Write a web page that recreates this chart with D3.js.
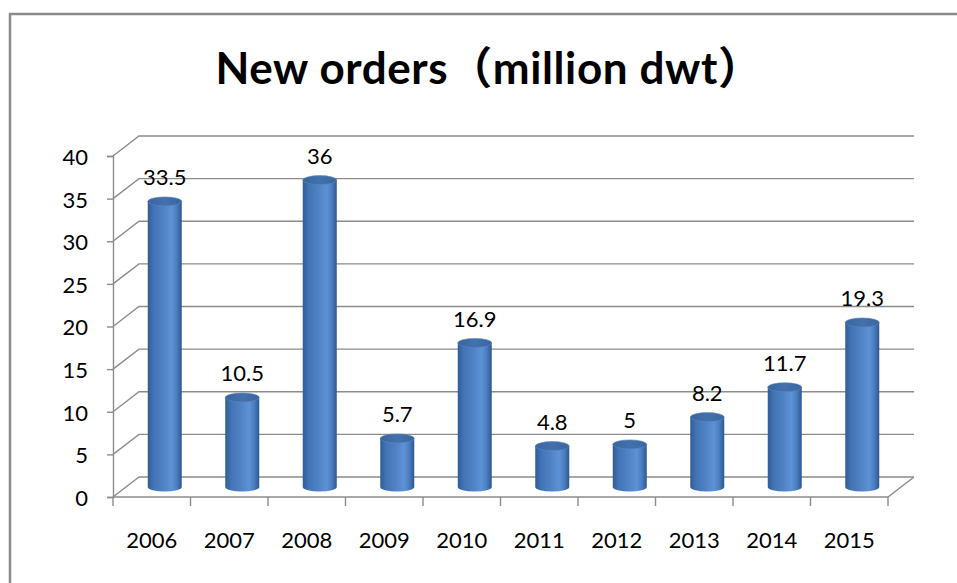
<!DOCTYPE html>
<html>
<head>
<meta charset="utf-8">
<script src="https://cdn.jsdelivr.net/npm/d3@7"></script>
<style>
  html, body { margin: 0; padding: 0; background: #fff; }
  svg { display: block; }
  text { font-family: Lato, "Noto Sans", "Noto Sans CJK SC", sans-serif; fill: #000; }
</style>
</head>
<body>
<svg id="chart" width="957" height="583"></svg>
<script>
// Chart data
const years = ["2006", "2007", "2008", "2009", "2010", "2011", "2012", "2013", "2014", "2015"];
const newOrders = [33.5, 10.5, 36, 5.7, 16.9, 4.8, 5, 8.2, 11.7, 19.3];
const yTicks = [0, 5, 10, 15, 20, 25, 30, 35, 40];
const titleText = "New orders\uFF08million dwt\uFF09";

const svg = d3.select("#chart");
const W = 957, H = 583;

// Plot frame (front plane) and depth offset for the 3D look
const plotLeft = 113, plotRight = 888, plotBottom = 497, plotTop = 156;
const depth = { dx: 26, dy: -20 };

const x = d3.scaleBand().domain(years).range([plotLeft, plotRight]).paddingInner(0).paddingOuter(0);
const y = d3.scaleLinear().domain([0, 40]).range([plotBottom, plotTop]);

// Outer chart border
svg.append("rect")
  .attr("x", 10).attr("y", 14)
  .attr("width", W + 20).attr("height", H + 20)
  .attr("fill", "none").attr("stroke", "#8a8a8a").attr("stroke-width", 2.5);

// Title
svg.append("text")
  .attr("x", 489).attr("y", 84)
  .attr("text-anchor", "middle")
  .attr("font-weight", 700)
  .attr("font-size", 44)
  .attr("letter-spacing", 0.6)
  .text(titleText);

const gridColor = "#8c8c8c";
const grid = svg.append("g").attr("stroke", gridColor).attr("stroke-width", 1.4).attr("fill", "none");

// Back wall gridlines plus left side-wall diagonals
yTicks.forEach(v => {
  grid.append("path").attr("d",
    `M${plotLeft},${y(v)} L${plotLeft + depth.dx},${y(v) + depth.dy} L${plotRight + depth.dx},${y(v) + depth.dy}`);
});

// Floor: front edge and right diagonal
grid.append("path").attr("d",
  `M${plotLeft},${plotBottom} L${plotRight},${plotBottom} L${plotRight + depth.dx},${plotBottom + depth.dy}`);

// Vertical value axis with ticks
const yAxis = d3.axisLeft(y).tickValues(yTicks).tickSize(6).tickPadding(19);
const gy = svg.append("g").attr("transform", `translate(${plotLeft},0)`).call(yAxis);
gy.select(".domain").attr("stroke", gridColor).attr("stroke-width", 1.4);
gy.selectAll(".tick line").attr("stroke", gridColor).attr("stroke-width", 1.4);
gy.selectAll(".tick text")
  .attr("font-size", 22)
  .attr("font-family", "Lato, sans-serif")
  .attr("fill", "#000")
  .attr("dy", "0.38em");

// Category axis: tick marks at band boundaries, labels at band centers
const boundaries = years.map(d => x(d)).concat([plotRight]);
svg.append("g").selectAll("line").data(boundaries).join("line")
  .attr("x1", d => d).attr("x2", d => d)
  .attr("y1", plotBottom).attr("y2", plotBottom + 9)
  .attr("stroke", gridColor).attr("stroke-width", 1.4);

svg.append("g").selectAll("text").data(years).join("text")
  .attr("x", d => x(d) + x.bandwidth() / 2)
  .attr("y", 548)
  .attr("text-anchor", "middle")
  .attr("font-size", 22)
  .text(d => d);

// Cylinder shading
const defs = svg.append("defs");
const side = defs.append("linearGradient").attr("id", "cylSide").attr("x1", "0%").attr("x2", "100%");
[["0%", "#2f5d97"], ["18%", "#4374b5"], ["45%", "#4f82c4"], ["70%", "#5d92d6"], ["85%", "#4b7ec0"], ["100%", "#2c5890"]]
  .forEach(([o, c]) => side.append("stop").attr("offset", o).attr("stop-color", c));
const cap = defs.append("linearGradient").attr("id", "cylTop").attr("x1", "0%").attr("x2", "100%");
[["0%", "#3a659c"], ["50%", "#4371ad"], ["100%", "#3a669f"]]
  .forEach(([o, c]) => cap.append("stop").attr("offset", o).attr("stop-color", c));

const barW = 34, rx = barW / 2, ry = 4.5;
const cx = d => x(d) + x.bandwidth() / 2 + depth.dx / 2;
const yMid = v => y(v) + depth.dy / 2;

const data = years.map((yr, i) => ({ year: yr, value: newOrders[i] }));
const bars = svg.append("g").selectAll("g").data(data).join("g");

// Bottom half-ellipse + body
bars.append("path")
  .attr("d", d => {
    const x0 = cx(d.year) - rx, x1 = cx(d.year) + rx;
    const yt = yMid(d.value), yb = yMid(0);
    return `M${x0},${yt} L${x0},${yb} A${rx},${ry} 0 0 0 ${x1},${yb} L${x1},${yt} Z`;
  })
  .attr("fill", "url(#cylSide)");

// Top cap
bars.append("ellipse")
  .attr("cx", d => cx(d.year))
  .attr("cy", d => yMid(d.value))
  .attr("rx", rx).attr("ry", ry)
  .attr("fill", "url(#cylTop)")
  .attr("stroke", "#5a86bf").attr("stroke-width", 0.6);

// Value labels
bars.append("text")
  .attr("x", d => cx(d.year))
  .attr("y", d => yMid(d.value) - 16)
  .attr("text-anchor", "middle")
  .attr("font-size", 22)
  .text(d => d.value);
</script>
</body>
</html>
